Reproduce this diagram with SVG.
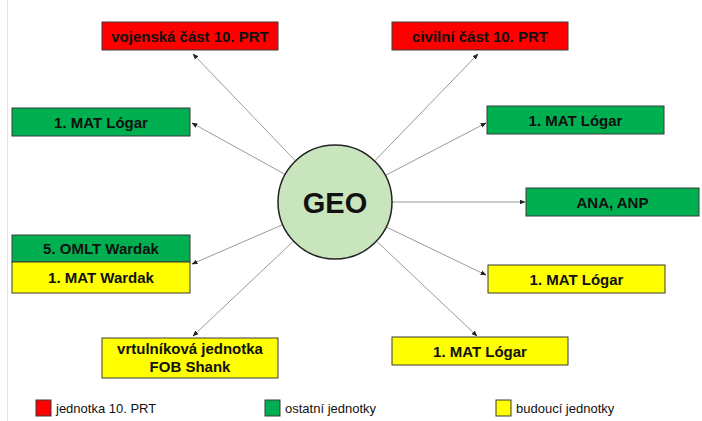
<svg xmlns="http://www.w3.org/2000/svg" width="702" height="421" viewBox="0 0 702 421">
<defs>
<style>
.box{stroke:#3a3a3a;stroke-width:1}
.red{fill:#ff0000}
.green{fill:#00b050}
.yellow{fill:#ffff00}
.lbl{font-family:"Liberation Sans",Arial,sans-serif;font-weight:bold;font-size:15px;fill:#111;text-anchor:middle}
.leg{font-family:"Liberation Sans",Arial,sans-serif;font-size:13px;fill:#111}
.conn{stroke:#9a9a9a;stroke-width:1;fill:none;marker-end:url(#arr)}
</style>
<marker id="arr" viewBox="0 0 10 10" refX="9" refY="5" markerWidth="6" markerHeight="6" orient="auto" markerUnits="userSpaceOnUse">
<path d="M0,1 L10,5 L0,9 z" fill="#222"/>
</marker>
</defs>
<rect width="702" height="421" fill="#ffffff"/>
<line x1="7.5" y1="0" x2="7.5" y2="421" stroke="#e4e4e4" stroke-width="1"/>
<g id="connectors">
<line class="conn" x1="295.5" y1="160.9" x2="193" y2="54"/>
<line class="conn" x1="374.6" y1="161" x2="478" y2="54"/>
<line class="conn" x1="285.1" y1="174.4" x2="192" y2="123"/>
<line class="conn" x1="385.4" y1="175.4" x2="486" y2="123"/>
<line class="conn" x1="392" y1="202" x2="525" y2="202"/>
<line class="conn" x1="282.7" y1="224.7" x2="192" y2="264"/>
<line class="conn" x1="386.3" y1="227" x2="486" y2="275"/>
<line class="conn" x1="293.5" y1="241.1" x2="193" y2="336"/>
<line class="conn" x1="376.5" y1="241.1" x2="477" y2="336"/>
</g>
<g id="geo">
<circle cx="335" cy="202" r="57" fill="#c9e5bd" stroke="#222" stroke-width="1.5"/>
<text x="335" y="213" font-family="'Liberation Sans',Arial,sans-serif" font-weight="bold" font-size="29" fill="#111" text-anchor="middle">GEO</text>
</g>
<g id="vojenska">
<rect class="box red" x="102" y="22" width="176" height="28"/>
<text class="lbl" x="190" y="41.5">vojenská část 10. PRT</text>
</g>
<g id="civilni">
<rect class="box red" x="392" y="22" width="176" height="28"/>
<text class="lbl" x="480" y="41.5">civilní část 10. PRT</text>
</g>
<g id="mat-logar-left">
<rect class="box green" x="12" y="108" width="178" height="28"/>
<text class="lbl" x="101" y="127.5">1. MAT Lógar</text>
</g>
<g id="mat-logar-right-green">
<rect class="box green" x="487" y="106" width="177" height="28"/>
<text class="lbl" x="575.5" y="125.5">1. MAT Lógar</text>
</g>
<g id="ana-anp">
<rect class="box green" x="526" y="188" width="173" height="28"/>
<text class="lbl" x="612.5" y="207.5">ANA, ANP</text>
</g>
<g id="omlt-wardak">
<rect class="box green" x="12" y="235" width="178" height="27"/>
<text class="lbl" x="101" y="254">5. OMLT Wardak</text>
</g>
<g id="mat-wardak">
<rect class="box yellow" x="12" y="262" width="178" height="31"/>
<text class="lbl" x="101" y="283">1. MAT Wardak</text>
</g>
<g id="mat-logar-right-yellow">
<rect class="box yellow" x="488" y="265" width="177" height="28"/>
<text class="lbl" x="576.5" y="284.5">1. MAT Lógar</text>
</g>
<g id="vrtulnikova">
<rect class="box yellow" x="102" y="338" width="176" height="40"/>
<text class="lbl" x="190" y="354">vrtulníková jednotka</text>
<text class="lbl" x="190" y="372">FOB Shank</text>
</g>
<g id="mat-logar-bottom">
<rect class="box yellow" x="392" y="337" width="176" height="28"/>
<text class="lbl" x="480" y="356.5">1. MAT Lógar</text>
</g>
<g id="legend">
<rect class="box red" x="36" y="400" width="15" height="16"/>
<text class="leg" x="56" y="413">jednotka 10. PRT</text>
<rect class="box green" x="265" y="400" width="15" height="16"/>
<text class="leg" x="285" y="413">ostatní jednotky</text>
<rect class="box yellow" x="496" y="400" width="15" height="16"/>
<text class="leg" x="516" y="413">budoucí jednotky</text>
</g>
</svg>
